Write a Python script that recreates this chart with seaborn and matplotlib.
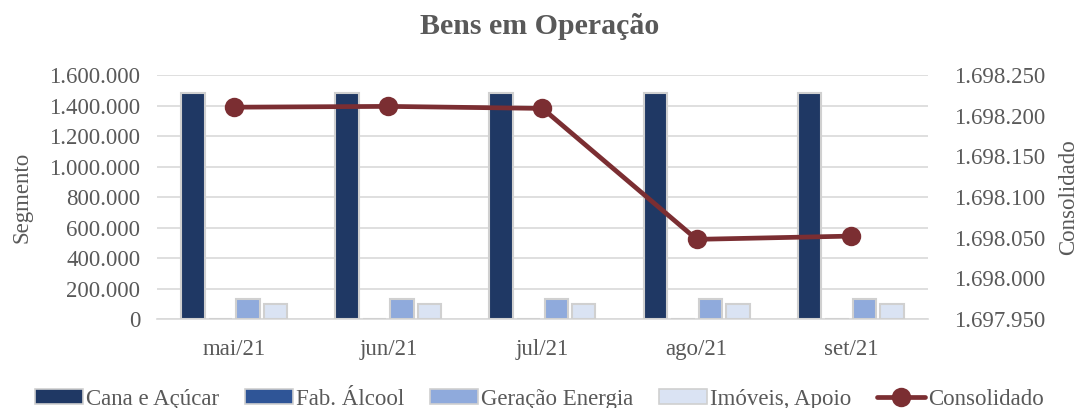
import numpy as np
import pandas as pd
import matplotlib
matplotlib.use("Agg")
import matplotlib.pyplot as plt
import matplotlib.ticker as mticker
from matplotlib.patches import Patch
from matplotlib.lines import Line2D
import seaborn as sns

months = ["mai/21", "jun/21", "jul/21", "ago/21", "set/21"]
series = ["Cana e Açúcar", "Fab. Álcool", "Geração Energia", "Imóveis, Apoio"]
cana = [1480000, 1480000, 1480000, 1480000, 1480000]
fab_alcool = [0, 0, 0, 0, 0]
geracao = [132000, 132000, 132000, 132000, 132000]
imoveis = [98000, 98000, 98000, 98000, 98000]
consolidado = [1698210.5, 1698211.5, 1698209.0, 1698048.0, 1698052.0]

colors = ["#1F3864", "#2F5597", "#8FAADC", "#DAE3F3"]
line_color = "#7B2E32"
text_color = "#595959"
grid_color = "#D9D9D9"
FAM = ["Liberation Serif", "DejaVu Serif"]

sns.set_theme(style="white")
plt.rcParams["font.family"] = FAM

df = pd.DataFrame({
    "Mês": np.tile(months, len(series)),
    "Série": np.repeat(series, len(months)),
    "Valor": np.concatenate([cana, fab_alcool, geracao, imoveis]),
})

fig = plt.figure(figsize=(10.79, 4.08), dpi=100)
ax = fig.add_axes([0.1455, 0.218, 0.7145, 0.598])

sns.barplot(data=df, x="Mês", y="Valor", hue="Série", hue_order=series,
            order=months, palette=colors, saturation=1, width=0.714, gap=0.15,
            edgecolor="#D0D0D0", linewidth=1.5, ax=ax, legend=False, zorder=3)

ax.set_xlim(-0.5, len(months) - 0.5)
ax.set_ylim(0, 1600000)
ax.yaxis.set_major_locator(mticker.MultipleLocator(200000))
fmt = mticker.FuncFormatter(lambda v, p: f"{v:,.0f}".replace(",", "."))
ax.yaxis.set_major_formatter(fmt)
ax.grid(axis="y", color=grid_color, linewidth=1.2, zorder=0)
ax.set_axisbelow(True)
for s in ["left", "right", "top"]:
    ax.spines[s].set_visible(False)
ax.spines["bottom"].set_color(grid_color)
ax.spines["bottom"].set_linewidth(1.2)
ax.tick_params(axis="y", length=0, labelsize=16.5, labelcolor=text_color, pad=12)
ax.tick_params(axis="x", which="major", length=0, labelsize=16.5, labelcolor=text_color, pad=14)
ax.set_xticks(np.arange(-0.5, len(months)), minor=True)
ax.tick_params(axis="x", which="minor", length=7, color=grid_color, width=1.2)
ax.set_xlabel("")
ax.set_ylabel("Segmento", fontsize=16.5, color=text_color)
ax.yaxis.set_label_coords(-0.161, 0.5)

ax2 = ax.twinx()
sns.lineplot(x=np.arange(len(months)), y=consolidado, color=line_color,
             linewidth=3.4, marker="o", markersize=14, markeredgewidth=0,
             ax=ax2, zorder=5)
ax2.set_ylim(1697950, 1698250)
ax2.yaxis.set_major_locator(mticker.MultipleLocator(50))
ax2.yaxis.set_major_formatter(fmt)
for s in ["left", "right", "top", "bottom"]:
    ax2.spines[s].set_visible(False)
ax2.tick_params(axis="y", length=0, labelsize=16.5, labelcolor=text_color, pad=19)
ax2.set_ylabel("Consolidado", fontsize=16.5, color=text_color)
ax2.yaxis.set_label_coords(1.1686, 0.5)
ax2.set_xlim(-0.5, len(months) - 0.5)

fig.text(0.5, 0.934, "Bens em Operação", fontsize=21.5, fontweight="bold",
         color=text_color, ha="center", va="center")

handles = [Patch(facecolor=c, edgecolor="#D0D0D0", linewidth=1.2, label=s)
           for c, s in zip(colors, series)]
handles.append(Line2D([0], [0], color=line_color, linewidth=3.4, marker="o",
                      markersize=14, markeredgewidth=0, label="Consolidado"))
fig.legend(handles=handles, loc="center", bbox_to_anchor=(0.5, 0.022), ncol=5,
           frameon=False, prop={"family": FAM, "size": 16.5}, labelcolor=text_color,
           handlelength=2.1, handleheight=0.6, handletextpad=0.15, columnspacing=1.1)

fig.savefig("out.png", dpi=100)
